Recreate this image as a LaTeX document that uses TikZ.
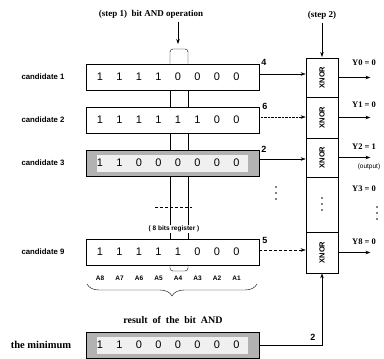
\documentclass[tikz,border=0pt]{standalone}
\usepackage{fontspec}
\setmainfont{Liberation Serif}
\setsansfont{Liberation Sans}
\usetikzlibrary{positioning, arrows.meta, decorations.pathreplacing}

\tikzset{
  reg/.style={draw, thick, minimum width=173pt, minimum height=26pt, inner sep=0pt},
  xnor/.style={draw, thick, minimum width=32pt, inner sep=0pt},
  cand/.style={font=\sffamily\bfseries\fontsize{7.8}{8}\selectfont},
  bitv/.style={font=\sffamily\fontsize{11}{12}\selectfont},
  abit/.style={font=\sffamily\bfseries\fontsize{6.5}{7}\selectfont},
  titl/.style={font=\bfseries\fontsize{9}{10}\selectfont},
  ylab/.style={font=\bfseries\fontsize{8.5}{9}\selectfont, anchor=west, inner sep=0pt},
  num/.style={font=\sffamily\bfseries\fontsize{9}{10}\selectfont, inner sep=0pt},
  seta/.style={-{Stealth[length=5pt,width=3.5pt]}, semithick},
}
\newcommand{\pontos}[2]{\foreach \d in {-6,0,6} \fill (#1,#2+\d) circle (0.9);}

\begin{document}
\begin{tikzpicture}[x=1pt, y=-1pt]
\useasboundingbox (0,0) rectangle (384,359);

% Titulos
\node[titl] (t1) at (151,14) {(step 1)\ \ bit AND operation};
\node[titl] (t2) at (322,15) {(step 2)};

% Coluna do bit A4
\coordinate (colL) at (170,0);
\coordinate (colR) at (188,0);

% Registradores (8 bits)
\node[reg] (c1) at (172.5,77) {};
\node[reg] (c2) at (172.5,120) {};
\node[reg, fill=gray!60] (c3) at (172.5,163) {};
\fill[gray!12] (97,155) rectangle (248,172);
\node[reg] (c9) at (172.5,252) {};
\node[reg, fill=gray!60] (minv) at (172.5,345) {};
\fill[gray!12] (97,337) rectangle (248,354);

\node[cand] (l1) at (43,77) {candidate 1};
\node[cand] (l2) at (43,120) {candidate 2};
\node[cand] (l3) at (43,163) {candidate 3};
\node[cand] (l9) at (43,252) {candidate 9};
\node[font=\bfseries\fontsize{10.5}{11}\selectfont] (lm) at (41,345) {the minimum};

% Bits
\foreach \b [count=\i] in {1,1,1,1,0,0,0,0}
  \node[bitv] at (100+19.5*\i-19.5,77) {\b};
\foreach \b [count=\i] in {1,1,1,1,1,1,0,0}
  \node[bitv] at (100+19.5*\i-19.5,120) {\b};
\foreach \b [count=\i] in {1,1,0,0,0,0,0,0}
  \node[bitv] at (100+19.5*\i-19.5,163) {\b};
\foreach \b [count=\i] in {1,1,1,1,1,0,0,0}
  \node[bitv] at (100+19.5*\i-19.5,252) {\b};
\foreach \b [count=\i] in {1,1,0,0,0,0,0,0}
  \node[bitv] at (100+19.5*\i-19.5,345) {\b};

% Nomes dos bits
\foreach \n [count=\i] in {8,7,6,5,4,3,2,1}
  \node[abit] at (100+19.5*\i-19.5,278) {A\n};

% Coluna do bit A4
\draw[rounded corners=3pt] (c1.north -| colL) -- (170,49) -- (188,49) -- (c1.north -| colR);
\draw (c1.south -| colL) -- (c2.north -| colL) (c1.south -| colR) -- (c2.north -| colR);
\draw (c2.south -| colL) -- (c3.north -| colL) (c2.south -| colR) -- (c3.north -| colR);
\draw (c3.south -| colL) -- (c9.north -| colL) (c3.south -| colR) -- (c9.north -| colR);
\draw[rounded corners=3pt] (c9.south -| colL) -- (170,271) -- (188,271) -- (c9.south -| colR);
\draw[densely dashed, thick] (155,207) -- (192,207);
\node[abit, fill=white, inner sep=1pt] (reg8) at (174,229) {( 8 bits register )};

% Chave
\draw[decorate, decoration={brace, mirror, amplitude=12pt}] (87,284) -- (257,284);
\node[font=\bfseries\fontsize{10}{11}\selectfont] (res) at (173,320) {result\ \ of\ \ the\ \ bit\ \ AND};

% Setas de entrada
\draw[seta] (t1.south -| 178,0) -- (178,44);
\draw[seta] (t2.south) -- (322,57);

% Bloco XNOR
\node[xnor, minimum height=39pt] (x1) at (322,77.5) {};
\node[xnor, minimum height=41pt] (x2) at (322,117.5) {};
\node[xnor, minimum height=39pt] (x3) at (322,157.5) {};
\node[xnor, minimum height=55pt] (xd) at (322,204.5) {};
\node[xnor, minimum height=41pt] (x9) at (322,252.5) {};
\foreach \x in {x1,x2,x3,x9}
  \node[rotate=90, font=\sffamily\bfseries\fontsize{7.5}{8}\selectfont] at (\x) {XNOR};
\pontos{322}{204}

% Conexoes
\draw[seta, thin] ([yshift=3pt]c1.east) -- ([yshift=3pt]c1.east -| x1.west);
\draw[seta, thin, densely dotted] ([yshift=3pt]c2.east) -- ([yshift=3pt]c2.east -| x2.west);
\draw[seta, thin] ([yshift=4pt]c3.east) -- ([yshift=4pt]c3.east -| x3.west);
\draw[seta, thin, densely dashed] ([yshift=2pt]c9.east) -- ([yshift=2pt]c9.east -| x9.west);
\node[num] (n1) at (264,62) {4};
\node[num] (n2) at (265,106) {6};
\node[num] (n3) at (264,149) {2};
\node[num] (n9) at (265,240) {5};
\pontos{276}{193}
\draw[seta] (minv.east) -| (x9.south);
\node[num] (nm) at (313,337) {2};

% Saidas
\draw[seta] (x1.east) -- ++(32,0);
\draw[seta] (x2.east) -- ++(32,0);
\draw[seta] (x3.east) -- ++(32,0);
\draw[seta] (x9.east) -- ++(32,0);
\node[ylab] (y0) at (352,63) {Y0 = 0};
\node[ylab] (y1) at (352,105) {Y1 = 0};
\node[ylab] (y2) at (352,147) {Y2 = 1};
\node[font=\sffamily\fontsize{6.5}{7}\selectfont] (out) at (369,167) {(output)};
\node[ylab] (y3) at (352,189) {Y3 = 0};
\pontos{377}{213}
\node[ylab] (y8) at (352,242) {Y8 = 0};

\end{tikzpicture}
\end{document}
